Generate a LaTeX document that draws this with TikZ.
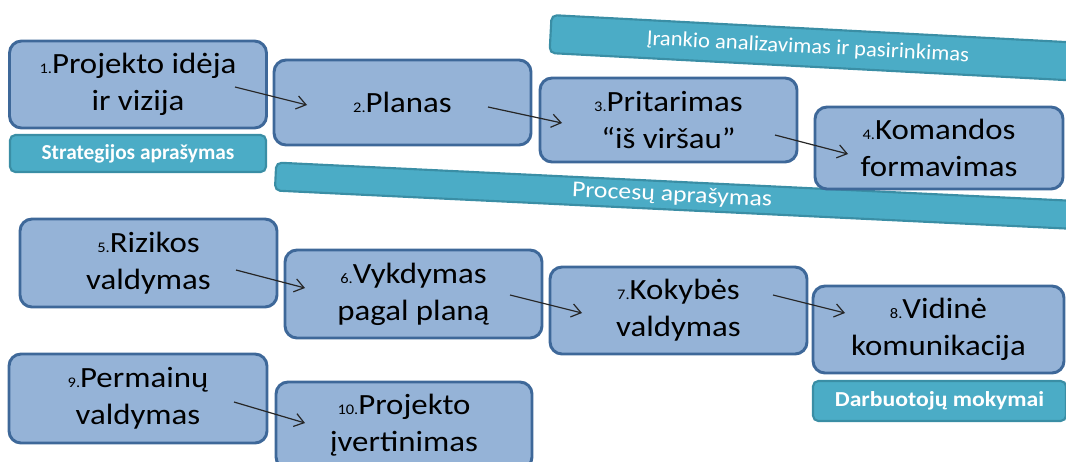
\documentclass[tikz,border=0pt]{standalone}
\usepackage{fontspec}
\setmainfont{Carlito}
\newfontfamily\boxfont{Carlito}[FakeStretch=1.12]
\newfontfamily\bandfontA{Carlito}[FakeStretch=1.06]
\newfontfamily\bandfontB{Carlito}[FakeStretch=1.14]
\newfontfamily\bandfontC{Carlito}[FakeStretch=1.11]
\usetikzlibrary{arrows.meta,calc}
\definecolor{boxfill}{HTML}{95B3D7}
\definecolor{boxline}{HTML}{3E6899}
\definecolor{tealfill}{HTML}{4BACC6}
\definecolor{tealline}{HTML}{3A8EA5}
\newcommand{\nm}[1]{{\fontsize{11}{11}\selectfont #1}}
\tikzset{
  stepbox/.style={draw=boxline, fill=boxfill, line width=2.2pt, rounded corners=9pt,
    minimum width=192.75pt, minimum height=65.25pt, inner sep=0pt, align=center,
    font=\boxfont\fontsize{22}{27.75}\selectfont, text=black},
  tealbox/.style={draw=tealline, fill=tealfill, line width=1.6pt, rounded corners=4pt,
    inner sep=0pt, text=white},
  bandtext/.style={text=white, inner sep=0pt},
  flow/.style={draw=black!85, line width=0.9pt, -{Straight Barb[length=7pt,width=10pt]}}
}
\begin{document}
\begin{tikzpicture}[x=0.75pt, y=-0.75pt]
\useasboundingbox (0,0) rectangle (1066,461);
\clip (0,0) rectangle (1066,461);

% slanted bands
\node[tealbox, rotate=-3, anchor=west, minimum width=420pt, minimum height=28.5pt] (tool) at (549.5,34) {};
\node[bandtext, rotate=-3, font=\bandfontA\fontsize{16}{16}\selectfont] (tooltext) at (808,47.5) {Įrankio analizavimas ir pasirinkimas};
\node[tealbox, rotate=-2.75, anchor=west, minimum width=615pt, minimum height=21pt] (proc) at (274.5,176.5) {};
\node[bandtext, rotate=-2.75, font=\bandfontB\fontsize{17}{17}\selectfont] (proctext) at (672,195.5) {Procesų aprašymas};

% flat bands
\node[tealbox, minimum width=192pt, minimum height=27.75pt, font=\bfseries\fontsize{16}{16}\selectfont] (strat) at (138,153.5) {Strategijos aprašymas};
\node[tealbox, minimum width=189.75pt, minimum height=30pt, font=\bandfontC\bfseries\fontsize{16}{16}\selectfont] (train) at (939.5,401) {Darbuotojų mokymai};

% step boxes
\node[stepbox] (b1) at (138,84.5) {\nm{1.}Projekto idėja\\ir vizija};
\node[stepbox, minimum height=63.75pt] (b2) at (402.5,102.5) {\nm{2.}Planas};
\node[stepbox, minimum height=63pt] (b3) at (668.5,120) {\nm{3.}Pritarimas\\“iš viršau”};
\node[stepbox, minimum width=186pt, minimum height=61.5pt] (b4) at (939,148) {\nm{4.}Komandos\\formavimas};
\node[stepbox, minimum height=66pt] (b5) at (148.5,263) {\nm{5.}Rizikos\\valdymas};
\node[stepbox, minimum height=66pt] (b6) at (413.5,294) {\nm{6.}Vykdymas\\pagal planą};
\node[stepbox] (b7) at (678.5,310.5) {\nm{7.}Kokybės\\valdymas};
\node[stepbox, minimum width=188.25pt] (b8) at (938.5,329.5) {\nm{8.}Vidinė\\komunikacija};
\node[stepbox, minimum width=193.5pt, minimum height=66.75pt] (b9) at (138,398.5) {\nm{9.}Permainų\\valdymas};
\node[stepbox, minimum width=192pt] (b10) at (404,425.5) {\nm{10.}Projekto\\įvertinimas};

% connectors
\draw[flow] ([shift={(97,2.5)}]b1.center) -- ([shift={(-95.5,2.5)}]b2.center);
\draw[flow] ([shift={(85.5,4.5)}]b2.center) -- ([shift={(-106.5,3)}]b3.center);
\draw[flow] ([shift={(106.5,15)}]b3.center) -- ([shift={(-91,6)}]b4.center);
\draw[flow] ([shift={(87.5,7)}]b5.center) -- ([shift={(-108.5,-6)}]b6.center);
\draw[flow] ([shift={(96.5,1)}]b6.center) -- ([shift={(-96.5,2.5)}]b7.center);
\draw[flow] ([shift={(94.5,-15.5)}]b7.center) -- ([shift={(-93.5,-16.5)}]b8.center);
\draw[flow] ([shift={(96,3.5)}]b9.center) -- ([shift={(-99,-2.5)}]b10.center);
\end{tikzpicture}
\end{document}
